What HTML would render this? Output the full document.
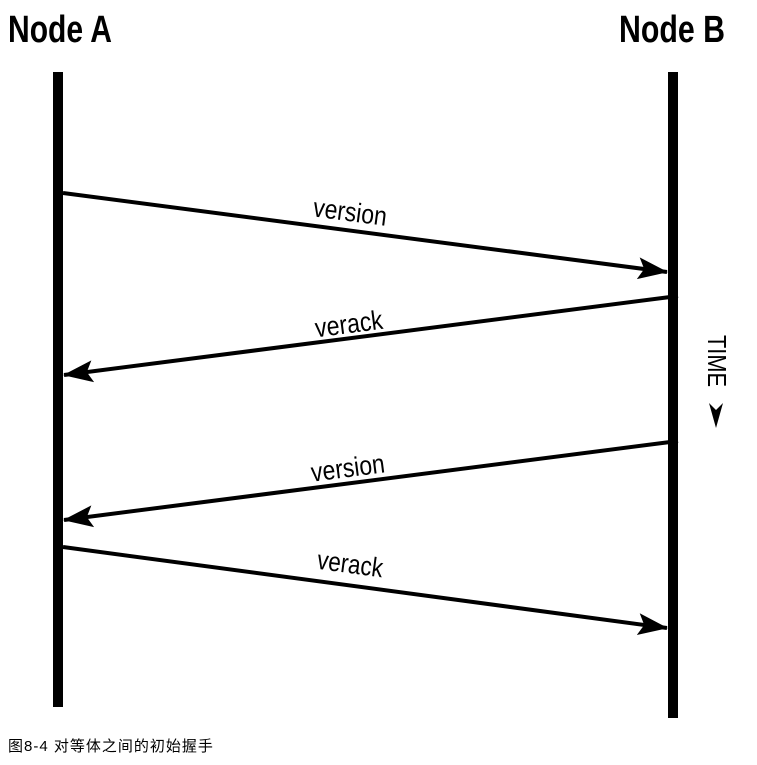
<!DOCTYPE html>
<html><head><meta charset="utf-8"><style>
html,body{margin:0;padding:0;background:#fff;}
body{width:757px;height:765px;overflow:hidden;position:relative;}
svg{position:absolute;left:0;top:0;}
.cap{position:absolute;left:8px;top:735px;font-family:"Liberation Sans","Noto Sans CJK SC",sans-serif;font-size:15px;color:#000;letter-spacing:1px;}
</style></head><body>
<svg width="757" height="765" viewBox="0 0 757 765">
<g font-family="'Liberation Sans Narrow','Liberation Sans',sans-serif" fill="#000">
<text x="8" y="42" font-size="38" font-weight="bold" textLength="104" lengthAdjust="spacingAndGlyphs">Node A</text>
<text x="619" y="42" font-size="38" font-weight="bold" textLength="106" lengthAdjust="spacingAndGlyphs">Node B</text>
</g>
<rect x="53" y="72" width="10" height="635" fill="#000"/>
<rect x="668" y="72" width="10" height="646" fill="#000"/>
<defs>
<marker id="ah" markerWidth="32" markerHeight="24" refX="29" refY="12" orient="auto" markerUnits="userSpaceOnUse">
<path d="M0,1 L30,12 L0,23 L6,12 Z" fill="#000"/>
</marker>
</defs>
<g stroke="#000" stroke-width="4" fill="none">
<line x1="63" y1="193" x2="667" y2="272" marker-end="url(#ah)"/>
<line x1="678" y1="296" x2="64" y2="375" marker-end="url(#ah)"/>
<line x1="678" y1="441" x2="64" y2="520" marker-end="url(#ah)"/>
<line x1="63" y1="547" x2="667" y2="628" marker-end="url(#ah)"/>
</g>
<g font-family="'Liberation Sans Narrow','Liberation Sans',sans-serif" font-size="27" fill="#000" text-anchor="middle">
<text transform="translate(349,221) rotate(7.45)" textLength="74" lengthAdjust="spacingAndGlyphs">version</text>
<text transform="translate(350,333) rotate(-7.35)" textLength="68" lengthAdjust="spacingAndGlyphs">verack</text>
<text transform="translate(349,477) rotate(-7.35)" textLength="74" lengthAdjust="spacingAndGlyphs">version</text>
<text transform="translate(349,573) rotate(7.6)" textLength="66" lengthAdjust="spacingAndGlyphs">verack</text>
<text transform="translate(708,361) rotate(90)" font-size="26" textLength="52" lengthAdjust="spacingAndGlyphs">TIME</text>
</g>
<path d="M709,403 L716,428 L723,403 L716,410 Z" fill="#000"/>
</svg>
<div class="cap">图8-4 对等体之间的初始握手</div>
</body></html>
